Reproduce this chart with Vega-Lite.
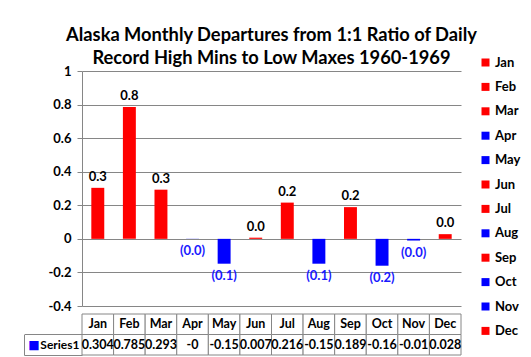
{
  "$schema": "https://vega.github.io/schema/vega-lite/v6.json",
  "padding": {"left": 23, "top": 25, "right": 5, "bottom": 5},
  "background": "white",
  "config": {"font": "Lato", "view": {"stroke": null}},
  "title": {
    "text": ["Alaska Monthly Departures from 1:1 Ratio of Daily", "Record High Mins to Low Maxes 1960-1969"],
    "fontSize": 18.3, "fontWeight": "bold", "lineHeight": 23, "anchor": "middle", "frame": "group", "offset": -12, "color": "black"
  },
  "datasets": {
    "rows": [
      {"month": "Jan", "value": 0.304, "shown": "0.304"},
      {"month": "Feb", "value": 0.785, "shown": "0.785"},
      {"month": "Mar", "value": 0.293, "shown": "0.293"},
      {"month": "Apr", "value": -0.001, "shown": "-0"},
      {"month": "May", "value": -0.148, "shown": "-0.15"},
      {"month": "Jun", "value": 0.007, "shown": "0.007"},
      {"month": "Jul", "value": 0.216, "shown": "0.216"},
      {"month": "Aug", "value": -0.148, "shown": "-0.15"},
      {"month": "Sep", "value": 0.189, "shown": "0.189"},
      {"month": "Oct", "value": -0.16, "shown": "-0.16"},
      {"month": "Nov", "value": -0.01, "shown": "-0.01"},
      {"month": "Dec", "value": 0.028, "shown": "0.028"}
    ]
  },
  "spacing": 0,
  "vconcat": [
    {
      "width": 379,
      "height": 235,
      "data": {"name": "rows"},
      "encoding": {
        "x": {"field": "month", "type": "nominal", "sort": ["Jan","Feb","Mar","Apr","May","Jun","Jul","Aug","Sep","Oct","Nov","Dec"],
              "scale": {"paddingInner": 0.59, "paddingOuter": 0.295}, "axis": null},
        "y": {"field": "value", "type": "quantitative", "scale": {"domain": [-0.4, 1], "nice": false},
              "axis": {"title": null, "values": [-0.4,-0.2,0,0.2,0.4,0.6,0.8,1], "labelExpr": "'' + datum.value",
                       "labelFontSize": 13, "labelFontWeight": "bold", "labelColor": "black", "labelPadding": 6,
                       "tickSize": 5, "tickColor": "#868686", "domainColor": "#868686", "gridColor": "#868686", "gridOpacity": 1}}
      },
      "layer": [
        {
          "mark": {"type": "bar"},
          "encoding": {
            "color": {"field": "month", "type": "nominal",
                      "scale": {"domain": ["Jan","Feb","Mar","Apr","May","Jun","Jul","Aug","Sep","Oct","Nov","Dec"],
                                "range": ["#FF0000","#FF0000","#FF0000","#0000FF","#0000FF","#FF0000","#FF0000","#0000FF","#FF0000","#0000FF","#0000FF","#FF0000"]},
                      "legend": {"title": null, "orient": "none", "legendX": 397, "legendY": -15, "symbolType": "square", "symbolSize": 64,
                                 "symbolStrokeWidth": 0, "labelFontSize": 13, "labelFontWeight": "bold", "labelColor": "black", "rowPadding": 10.4, "labelOffset": 3}}
          }
        },
        {
          "transform": [{"filter": "datum.value >= 0"}],
          "mark": {"type": "text", "baseline": "bottom", "dy": -4, "fontSize": 13, "fontWeight": "bold", "color": "black"},
          "encoding": {"text": {"field": "value", "type": "quantitative", "format": ".1f"}}
        },
        {
          "transform": [{"filter": "datum.value < 0"}],
          "mark": {"type": "text", "baseline": "top", "dy": 6, "fontSize": 13, "fontWeight": "bold", "color": "#1a1aff",
                   "text": {"expr": "'(' + format(abs(datum.value), '.1f') + ')'"}}
        }
      ]
    },
    {
      "width": 379,
      "height": 41,
      "data": {"name": "rows"},
      "transform": [{"fold": ["month", "shown"], "as": ["row", "cell"]}],
      "encoding": {
        "x": {"field": "month", "type": "nominal", "sort": ["Jan","Feb","Mar","Apr","May","Jun","Jul","Aug","Sep","Oct","Nov","Dec"],
              "scale": {"paddingInner": 0, "paddingOuter": 0}, "axis": null},
        "y": {"field": "row", "type": "nominal", "sort": ["month", "shown"], "scale": {"paddingInner": 0, "paddingOuter": 0},
              "axis": {"orient": "left", "offset": 58, "title": "■", "titleColor": "#0000FF", "titleFont": "DejaVu Sans", "titleFontSize": 12,
                       "titleAngle": 0, "titleX": 9.5, "titleY": 30.75, "titleAlign": "center", "titleBaseline": "middle",
                       "domainColor": "#868686", "domainDash": [0, 20.5, 20.5], "tickColor": "#868686", "tickSize": -58, "bandPosition": 1,
                       "labelExpr": "datum.value == 'shown' ? 'Series1' : ''", "labelFontSize": 12, "labelFontWeight": "bold", "labelColor": "black",
                       "labelPadding": 3, "labelBaseline": "middle"}}
      },
      "layer": [
        {"mark": {"type": "rect", "fill": "white", "stroke": "#868686", "strokeWidth": 1}},
        {"mark": {"type": "text", "fontSize": 12.5, "fontWeight": "bold", "color": "black"},
         "encoding": {"text": {"field": "cell", "type": "nominal"}}}
      ]
    }
  ]
}
